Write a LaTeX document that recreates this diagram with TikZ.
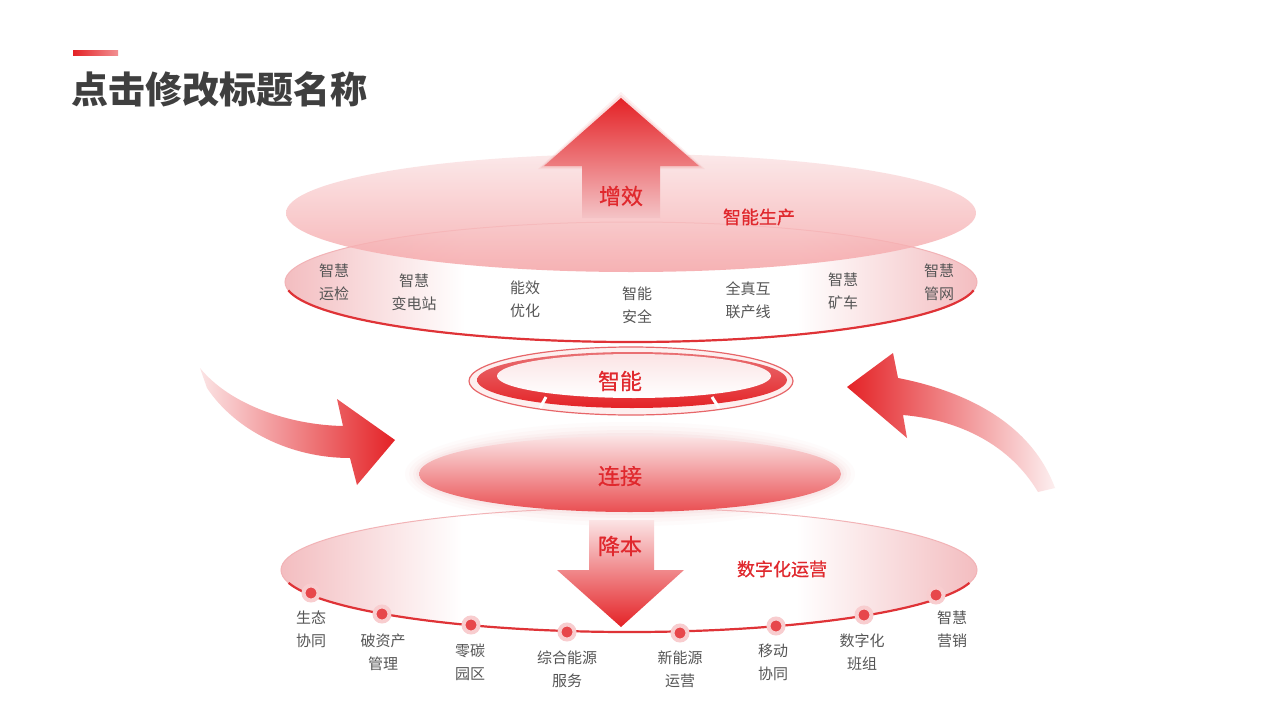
\documentclass[tikz,border=0pt]{standalone}
\usepackage{fontspec}
\setmainfont{Noto Sans CJK SC}
\newfontfamily\medfont[FakeBold=0.6]{Noto Sans CJK SC}
\definecolor{tred}{HTML}{E0282D}
\definecolor{agray}{HTML}{555555}
\definecolor{ttl}{HTML}{3F3F3F}
\definecolor{ared}{HTML}{E42226}
\definecolor{pk}{HTML}{F3BDC0}
\definecolor{pkl}{HTML}{FBE4E5}
\definecolor{pkline}{HTML}{F2B3B6}
\definecolor{rline}{HTML}{DF3337}
\definecolor{dotred}{HTML}{E7474B}
\definecolor{halo}{HTML}{F8CDCF}
\pgfdeclarehorizontalshading{endpink}{100bp}{color(0bp)=(pk); color(25bp)=(pk); color(38bp)=(white); color(62bp)=(white); color(75bp)=(pk); color(100bp)=(pk)}
\tikzset{
  lbl/.style={text=agray, font=\fontsize{15}{23}\selectfont, align=center, inner sep=0pt},
  rlbl/.style={text=tred, font=\medfont\fontsize{22}{26}\selectfont, inner sep=0pt},
  slbl/.style={text=tred, font=\medfont\fontsize{18}{22}\selectfont, inner sep=0pt},
  dot/.style={circle, fill=dotred, draw=halo, line width=4pt, minimum size=15pt, inner sep=0pt},
}
\begin{document}
\begin{tikzpicture}[x=1pt,y=-1pt]
\useasboundingbox (0,0) rectangle (1280,720);
\fill[white] (0,0) rectangle (1280,720);

% title
\shade[left color=ared, right color=ared!50] (73,50) rectangle (118,55);
\node[anchor=base west, inner sep=0pt, text=ttl, font=\fontsize{37}{40}\selectfont\bfseries] (title) at (71,103) {点击修改标题名称};

% ring ellipse (labels)
\path[shading=endpink] (631,282) ellipse [x radius=346, y radius=60];
\draw[pkline, line width=1pt] (631,282) ellipse [x radius=346, y radius=60];
\draw[rline, line width=2.2pt] (631,282) ++(8:346 and 60) arc[start angle=8, end angle=172, x radius=346, y radius=60];

% top ellipse
\shade[top color=pkl, bottom color=pk!85!red, fill opacity=0.82] (631,213) ellipse [x radius=345, y radius=59];

% up arrow with soft glow
\foreach \k/\o in {6/0.06,3/0.1}{
  \fill[ared, opacity=\o, line join=round] (621,98-\k) -- (699+\k,166+\k/2) -- (544-\k,166+\k/2) -- cycle;
}
\shade[top color=ared, bottom color=pk!90!white] (621,98) -- (699,166) -- (660,166) -- (660,218) -- (582,218) -- (582,166) -- (544,166) -- cycle;
\node[rlbl] (zx) at (621,196) {增效};
\node[slbl] (znsc) at (759,217) {智能生产};

% ring labels
\node[lbl] (l1) at (334,282) {智慧\\运检};
\node[lbl] (l2) at (414,292) {智慧\\变电站};
\node[lbl] (l3) at (525,299) {能效\\优化};
\node[lbl] (l4) at (637,305) {智能\\安全};
\node[lbl] (l5) at (748,300) {全真互\\联产线};
\node[lbl] (l6) at (843,291) {智慧\\矿车};
\node[lbl] (l7) at (939,282) {智慧\\管网};

% middle ring
\fill[pkl!60!white] (631,381) ellipse [x radius=162, y radius=34];
\draw[rline!75, line width=1.2pt] (631,381) ellipse [x radius=162, y radius=34];
\shade[top color=rline!70, bottom color=ared] (632,380) ellipse [x radius=155, y radius=28];
\shade[top color=pkl, bottom color=white] (634,376) ellipse [x radius=137, y radius=22];
\draw[white, line width=3pt] (546,397) -- (540,408);
\draw[white, line width=3pt] (712,397) -- (719,408);
\node[rlbl] (zn) at (620,381) {智能};

% bottom ellipse
\path[shading=endpink] (629,570) ellipse [x radius=348, y radius=62];
\draw[pkline, line width=1pt] (629,570) ellipse [x radius=348, y radius=62];
\draw[rline, line width=2.2pt] (629,570) ++(12:348 and 62) arc[start angle=12, end angle=168, x radius=348, y radius=62];

% connect ellipse with glow
\foreach \k/\o in {14/0.06,10/0.08,6/0.1,3/0.14}{
  \fill[pk, opacity=\o] (630,474) ellipse [x radius=211+\k, y radius=38+\k];
}
\shade[top color=pkl, bottom color=ared!80] (630,474) ellipse [x radius=211, y radius=38];
\node[rlbl] (lj) at (620,476) {连接};

% down arrow
\shade[top color=pkl, bottom color=ared] (589,520) -- (654,520) -- (654,570) -- (684,570) -- (621,627) -- (557,570) -- (589,570) -- cycle;
\node[rlbl] (jb) at (620,546) {降本};
\node[slbl] (szh) at (782,569) {数字化运营};

% dots
\node[dot] (d1) at (311,593) {};
\node[dot] (d2) at (382,614) {};
\node[dot] (d3) at (471,625) {};
\node[dot] (d4) at (567,632) {};
\node[dot] (d5) at (680,633) {};
\node[dot] (d6) at (776,626) {};
\node[dot] (d7) at (864,615) {};
\node[dot] (d8) at (936,595) {};

% bottom labels
\node[lbl] (b1) at (311,629) {生态\\协同};
\node[lbl] (b2) at (383,652) {破资产\\管理};
\node[lbl] (b3) at (470,662) {零碳\\园区};
\node[lbl] (b4) at (567,669) {综合能源\\服务};
\node[lbl] (b5) at (680,669) {新能源\\运营};
\node[lbl] (b6) at (773,662) {移动\\协同};
\node[lbl] (b7) at (862,652) {数字化\\班组};
\node[lbl] (b8) at (952,629) {智慧\\营销};

% left curved arrow
\shade[left color=pkl, right color=ared]
  (200,368) .. controls (230,405) and (290,425) .. (343,426)
  -- (337,399) -- (395,440) -- (357,485) -- (350,458)
  .. controls (290,458) and (235,430) .. (207,388) -- cycle;

% right curved arrow
\shade[left color=ared, right color=pkl!60!white]
  (847,387) -- (893,353) -- (898,378)
  .. controls (960,390) and (1030,420) .. (1055,488)
  -- (1038,492)
  .. controls (1010,445) and (960,420) .. (903,415)
  -- (907,438) -- cycle;
\end{tikzpicture}
\end{document}
